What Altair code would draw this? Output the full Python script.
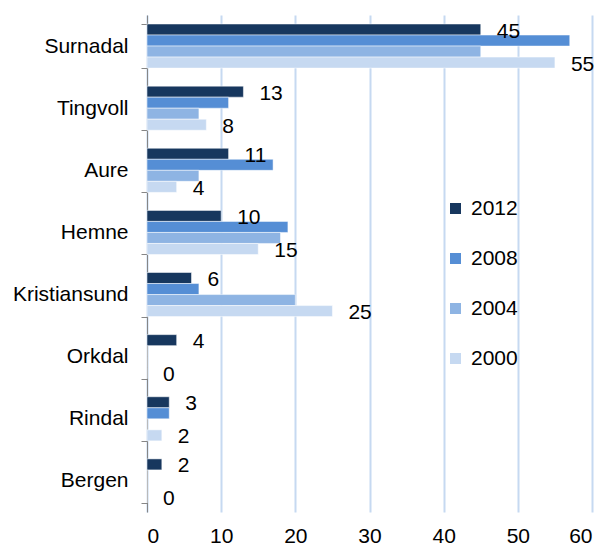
import altair as alt
import pandas as pd

categories = ["Surnadal", "Tingvoll", "Aure", "Hemne", "Kristiansund", "Orkdal", "Rindal", "Bergen"]
years = ["2012", "2008", "2004", "2000"]
v2012 = [45, 13, 11, 10, 6, 4, 3, 2]
v2008 = [57, 11, 17, 19, 7, 0, 3, 0]
v2004 = [45, 7, 7, 18, 20, 0, 0, 0]
v2000 = [55, 8, 4, 15, 25, 0, 2, 0]
labelled_years = ["2012", "2000"]
colors = ["#17375E", "#558ED5", "#8EB4E3", "#C6D9F1"]
x_ticks = [0, 10, 20, 30, 40, 50, 60]

rows = []
for year, vals in zip(years, [v2012, v2008, v2004, v2000]):
    for c, v in zip(categories, vals):
        rows.append({"kommune": c, "year": year, "value": v})
df = pd.DataFrame(rows)

W, H = 445, 497
FONT = "Liberation Sans"
FS = 21

y = alt.Y("kommune:N", sort=categories, title=None,
          scale=alt.Scale(paddingInner=0.29, paddingOuter=0.145),
          axis=alt.Axis(labelFontSize=FS, labelColor="#000000", labelFont=FONT,
                        labelPadding=13, tickSize=6, tickColor="#868686",
                        domainColor="#868686", tickBand="extent", grid=False))
yoff = alt.YOffset("year:N", sort=years, scale=alt.Scale(paddingInner=0, paddingOuter=0))
x = alt.X("value:Q", title=None, scale=alt.Scale(domain=[0, 60], nice=False),
          axis=alt.Axis(values=x_ticks, domain=False, ticks=False, grid=True,
                        gridColor="#C6D9F1", gridWidth=2, labelFontSize=FS,
                        labelFont=FONT, labelColor="#000000", labelPadding=13))

bars = alt.Chart(df).mark_bar(stroke="white", strokeWidth=0.5).encode(
    x=x, y=y, yOffset=yoff,
    color=alt.Color("year:N", sort=years,
                    scale=alt.Scale(domain=years, range=colors),
                    legend=alt.Legend(title=None, orient="none", legendX=298, legendY=183,
                                      symbolType="square", symbolSize=121,
                                      symbolStrokeWidth=0, labelFontSize=FS,
                                      labelFont=FONT, labelColor="#000000",
                                      rowPadding=28, labelOffset=5)),
)

labels = alt.Chart(df).transform_filter(
    alt.FieldOneOfPredicate(field="year", oneOf=labelled_years)
).mark_text(align="left", baseline="middle", dx=16, dy=2, fontSize=FS,
            font=FONT, color="#000000").encode(
    x=alt.X("value:Q", scale=alt.Scale(domain=[0, 60], nice=False)),
    y=alt.Y("kommune:N", sort=categories),
    yOffset=alt.YOffset("year:N", sort=years),
    text="value:Q",
)

chart = alt.layer(bars, labels).properties(
    width=W, height=H,
    autosize=alt.AutoSizeParams(type="none"),
    padding={"left": 139, "top": 7, "right": 6, "bottom": 40},
).configure_view(stroke=None).configure_axis(domainWidth=1, tickWidth=1)

chart.save("out.html", embed_options={"renderer": "svg", "actions": False})
